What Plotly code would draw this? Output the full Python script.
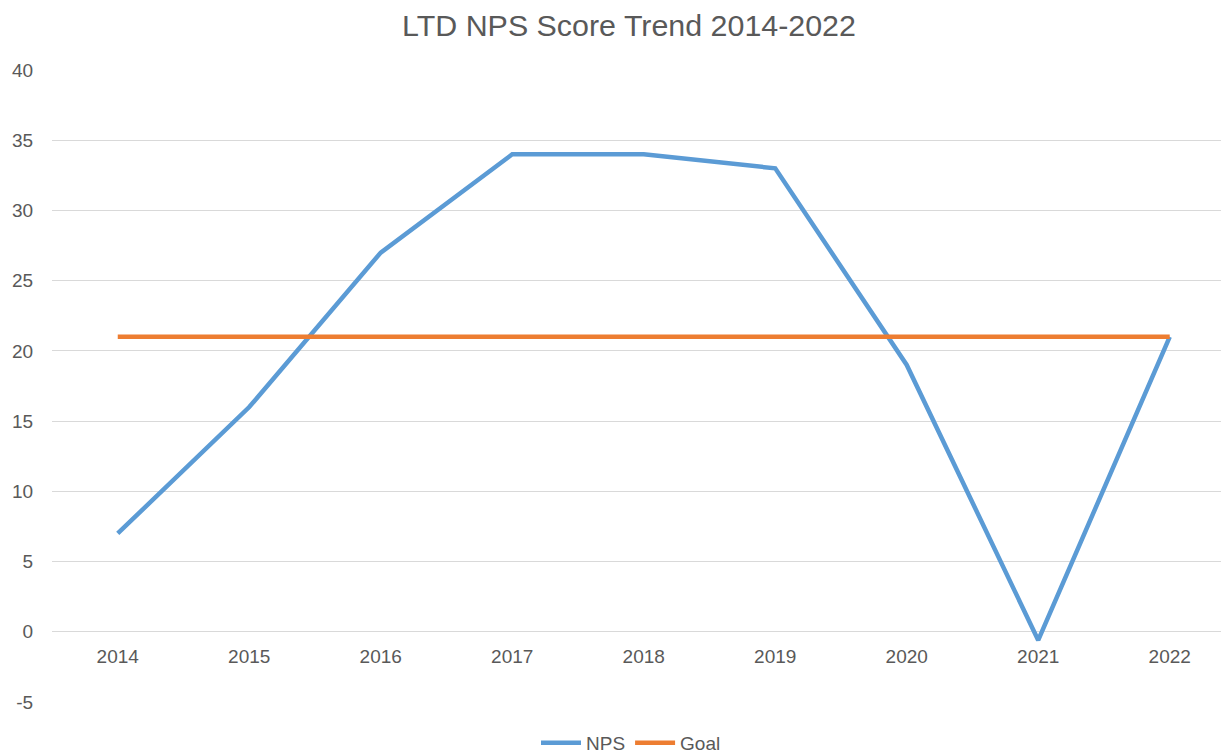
import plotly.graph_objects as go

years = ["2014", "2015", "2016", "2017", "2018", "2019", "2020", "2021", "2022"]
nps = [7, 16, 27, 34, 34, 33, 19, -0.6, 21]
goal = [21, 21, 21, 21, 21, 21, 21, 21, 21]
y_ticks = [-5, 0, 5, 10, 15, 20, 25, 30, 35, 40]
y_tick_labels = ["-5", "0", "5", "10", "15", "20", "25", "30", "35", "40"]

fig = go.Figure()
fig.add_trace(go.Scatter(x=years, y=nps, name="NPS", mode="lines",
                         line=dict(color="#5B9BD5", width=4.5)))
fig.add_trace(go.Scatter(x=years, y=goal, name="Goal", mode="lines",
                         line=dict(color="#ED7D31", width=4.5)))

font_family = "Liberation Sans, Arial, sans-serif"
fig.update_layout(
    width=1221, height=754,
    margin=dict(l=52, r=0, t=70, b=52, autoexpand=False),
    paper_bgcolor="white", plot_bgcolor="white",
    title=dict(text="LTD NPS Score Trend 2014-2022", x=629 / 1221,
               xanchor="center", xref="paper" if False else "container",
               y=1 - 25 / 754, yanchor="middle",
               font=dict(family=font_family, size=30.4, color="#595959")),
    font=dict(family=font_family, size=19, color="#595959"),
    xaxis=dict(type="category", range=[-0.5, 8.39], showgrid=False,
               showline=False, zeroline=False, anchor="free",
               position=5 / 45, ticks="outside", ticklen=7,
               tickcolor="rgba(0,0,0,0)", automargin=False,
               tickfont=dict(size=19, color="#595959")),
    yaxis=dict(range=[-5, 40], tickvals=y_ticks, ticktext=y_tick_labels,
               showgrid=True, gridcolor="#D9D9D9", gridwidth=1,
               zeroline=False, showline=False, ticks="outside", ticklen=14,
               tickcolor="rgba(0,0,0,0)", automargin=False,
               tickfont=dict(size=19, color="#595959")),
    showlegend=True,
    legend=dict(orientation="h", x=(631 - 52) / 1169, xanchor="center",
                y=-(743 - 702) / 632, yanchor="middle",
                font=dict(size=19, color="#595959"), itemwidth=40,
                tracegroupgap=0),
)

fig.write_html("out.html", config={"displayModeBar": False},
               post_script="document.body.style.margin='0px';"
                           "document.body.style.overflow='hidden';")
